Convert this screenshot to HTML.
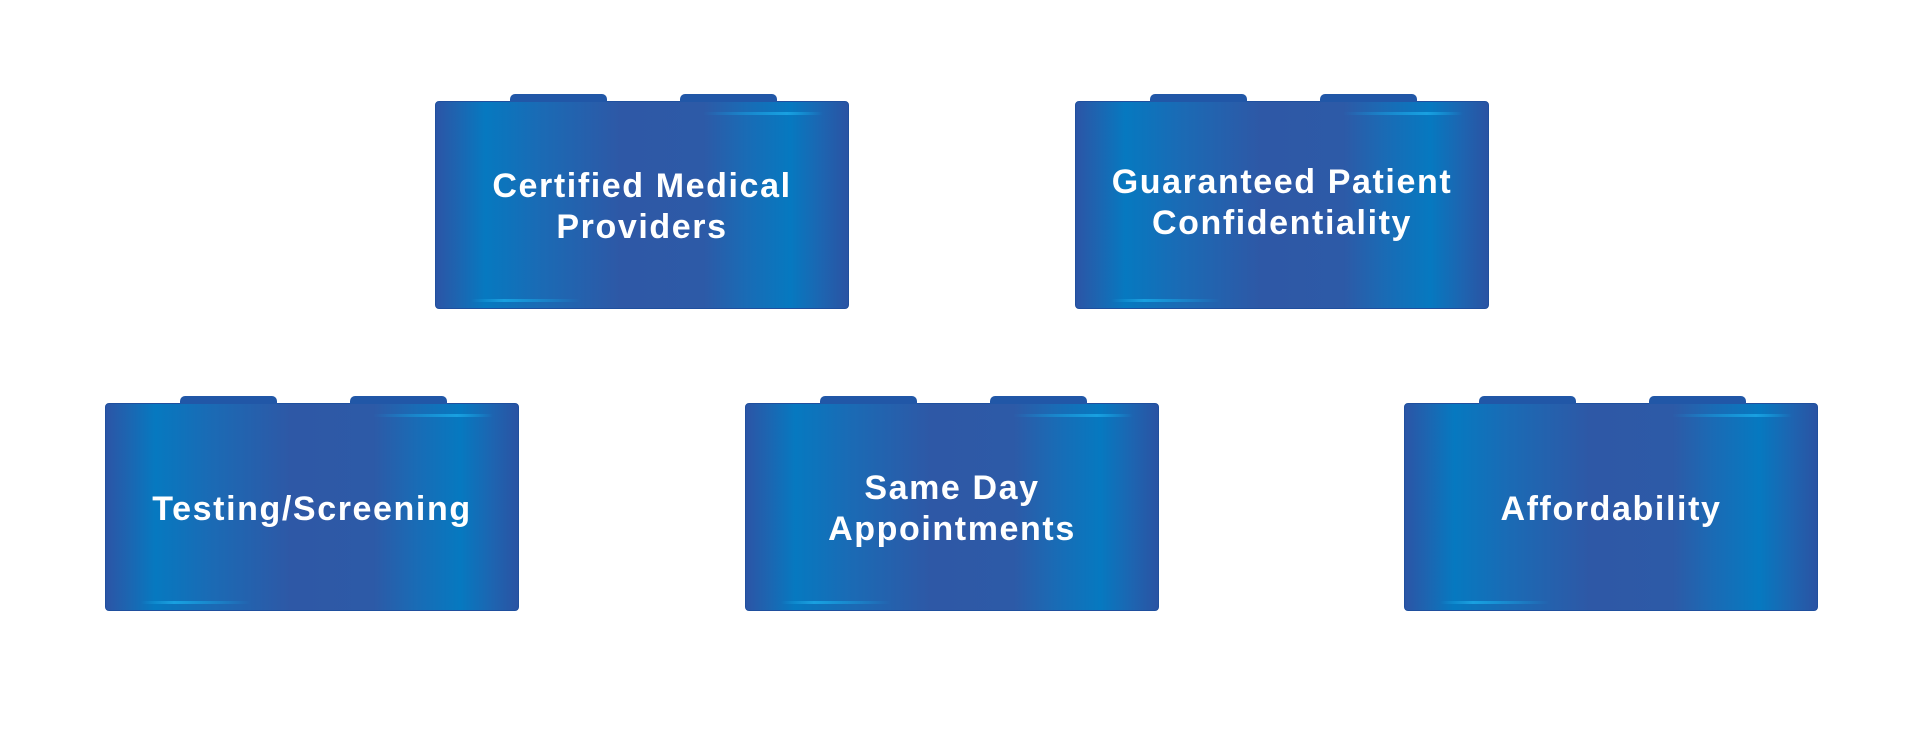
<!DOCTYPE html>
<html><head><style>
body{margin:0;width:1920px;height:750px;background:#fff;position:relative;overflow:hidden;font-family:"Liberation Sans",sans-serif}
.b{position:absolute;width:414px;height:208px;border-radius:4px;border:1px solid #1f4f9e;box-sizing:border-box;
background:linear-gradient(90deg,#2b55a6 0%,#1e64b0 5%,#0679c0 12%,#1a6bb5 25%,#2e58a6 45%,#2d5aa7 65%,#1a6bb5 75%,#0679c0 86%,#1e64b0 94%,#2a53a3 100%);
display:flex;align-items:center;justify-content:center;text-align:center;color:#fff;font-weight:bold;font-size:34px;line-height:41px;letter-spacing:1.6px}
.b span{margin-top:4px}
.b .t{position:absolute;top:-8px;width:97px;height:8px;background:#2157a7;border-radius:5px 5px 0 0}
.b .g1{position:absolute;top:10px;right:25px;width:120px;height:3px;background:linear-gradient(90deg,rgba(20,160,230,0),#19a0e0 70%,rgba(20,160,230,0))}
.b .g2{position:absolute;bottom:6px;left:35px;width:110px;height:3px;background:linear-gradient(90deg,rgba(20,160,230,0),#19a0e0 30%,rgba(20,160,230,0))}
</style></head><body>
<div class="b" style="left:435px;top:101px"><i class="t" style="left:74px"></i><i class="t" style="left:244px"></i><i class="g1"></i><i class="g2"></i><span>Certified Medical<br>Providers</span></div>
<div class="b" style="left:1075px;top:101px"><i class="t" style="left:74px"></i><i class="t" style="left:244px"></i><i class="g1"></i><i class="g2"></i><span style="margin-top:-4px">Guaranteed Patient<br>Confidentiality</span></div>
<div class="b" style="left:105px;top:403px"><i class="t" style="left:74px"></i><i class="t" style="left:244px"></i><i class="g1"></i><i class="g2"></i><span>Testing/Screening</span></div>
<div class="b" style="left:745px;top:403px"><i class="t" style="left:74px"></i><i class="t" style="left:244px"></i><i class="g1"></i><i class="g2"></i><span>Same Day<br>Appointments</span></div>
<div class="b" style="left:1404px;top:403px"><i class="t" style="left:74px"></i><i class="t" style="left:244px"></i><i class="g1"></i><i class="g2"></i><span>Affordability</span></div>
</body></html>
